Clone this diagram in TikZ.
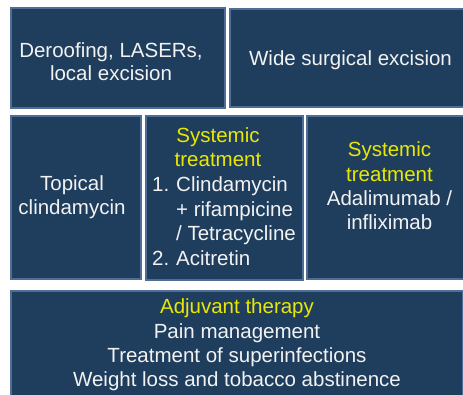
\documentclass[tikz,border=0pt]{standalone}
\usepackage{fontspec}
\setmainfont{Liberation Sans}
\definecolor{boxfill}{RGB}{31,62,94}
\definecolor{boxline}{RGB}{78,110,152}
\definecolor{headyellow}{RGB}{232,232,0}
\definecolor{bodywhite}{RGB}{242,242,242}
\tikzset{
  panel/.style={draw=boxline, fill=boxfill, line width=1.6pt, inner sep=0pt},
  txt/.style={anchor=base, inner sep=0pt, text=bodywhite, font=\fontsize{20.5}{24.5}\selectfont},
  head/.style={txt, text=headyellow},
  item/.style={txt, anchor=base west}
}
\begin{document}
\begin{tikzpicture}[x=1pt, y=-1pt]
\useasboundingbox (0,0) rectangle (463,395);
\clip (0,0) rectangle (463,395);
\fill[white] (0,0) rectangle (463,395);

% panels
\node[panel, minimum width=214pt, minimum height=100pt] (p1) at (118,58) {};
\node[panel, minimum width=241pt, minimum height=98pt] (p2) at (350.5,58) {};
\node[panel, minimum width=130pt, minimum height=163pt] (p3) at (76,197.5) {};
\node[panel, minimum width=157pt, minimum height=164pt] (p4) at (224.5,198) {};
\node[panel, minimum width=165pt, minimum height=163pt] (p5) at (389.5,197.5) {};
\node[panel, minimum width=452pt, minimum height=110pt] (p6) at (237,346) {};

% surgical options
\node[txt] (t1a) at (111,58) {Deroofing, LASERs,};
\node[txt] (t1b) at (111,81) {local excision};
\node[txt] (t2) at (350.5,66) {Wide surgical excision};

% topical
\node[txt] (t3a) at (72,191) {Topical};
\node[txt] (t3b) at (72,215) {clindamycin};

% systemic antibiotics / retinoid
\node[head] (t4a) at (218,143) {Systemic};
\node[head] (t4b) at (218,167) {treatment};
\node[item] (n1) at (152,192) {1.};
\node[item] (i1a) at (176,192) {Clindamycin};
\node[item] (i1b) at (176,217) {+ rifampicine};
\node[item] (i1c) at (176,241) {/ Tetracycline};
\node[item] (n2) at (152,266) {2.};
\node[item] (i2) at (176,266) {Acitretin};

% systemic biologics
\node[head] (t5a) at (389.5,157) {Systemic};
\node[head] (t5b) at (389.5,181.5) {treatment};
\node[txt] (t5c) at (389.5,206) {Adalimumab /};
\node[txt] (t5d) at (389.5,230) {infliximab};

% adjuvant measures
\node[head] (t6a) at (237,313) {Adjuvant therapy};
\node[txt] (t6b) at (237,338) {Pain management};
\node[txt] (t6c) at (237,362) {Treatment of superinfections};
\node[txt] (t6d) at (237,386) {Weight loss and tobacco abstinence};
\end{tikzpicture}
\end{document}
